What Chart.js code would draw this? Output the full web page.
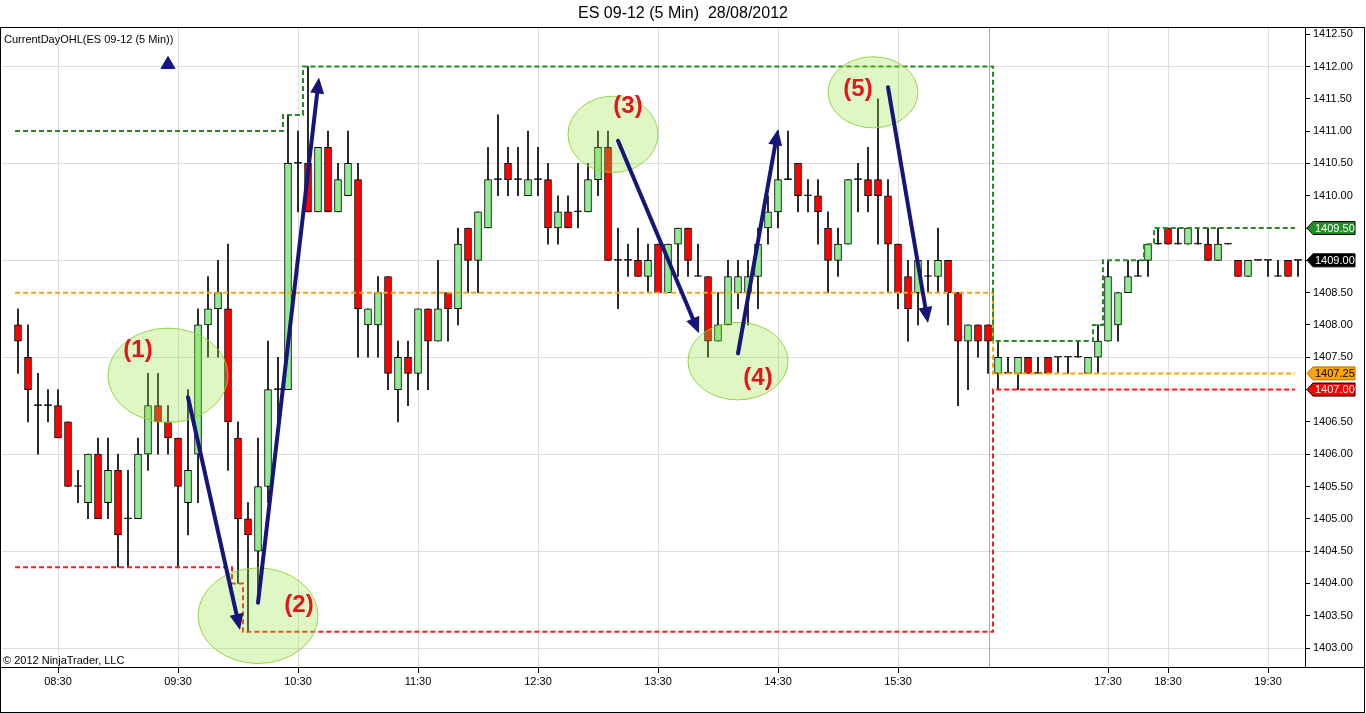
<!DOCTYPE html>
<html>
<head>
<meta charset="utf-8">
<title>ES 09-12 (5 Min) 28/08/2012</title>
<script src="https://cdn.jsdelivr.net/npm/chart.js@4.4.1/dist/chart.umd.min.js"></script>
<style>
  html, body { margin: 0; padding: 0; background: #fff; }
  #wrap { width: 1366px; height: 713px; }
</style>
</head>
<body>
<div id="wrap"><canvas id="esChart" width="1366" height="713"></canvas></div>
<script>
// 5 min bars, one value per bar (bar 1 = leftmost)
const barOpen = [
  1408.0, 1407.5, 1406.75, 1406.75, 1406.75, 1406.5, 1405.5, 1405.25, 1406.0, 1405.25,
  1405.75, 1405.0, 1405.0, 1406.0, 1406.75, 1406.5, 1406.25, 1405.25, 1406.0, 1408.0,
  1408.25, 1408.25, 1406.25, 1405.0, 1404.5, 1405.5, 1407.0, 1407.0, 1410.5, 1410.5,
  1409.75, 1410.75, 1409.75, 1410.0, 1410.25, 1408.0, 1408.0, 1408.75, 1407.0, 1407.5,
  1407.25, 1408.25, 1407.75, 1408.5, 1408.25, 1409.5, 1409.0, 1409.5, 1410.25, 1410.5,
  1410.25, 1410.0, 1410.25, 1410.25, 1409.5, 1409.75, 1409.75, 1409.75, 1410.25, 1410.75,
  1409.0, 1409.0, 1409.0, 1408.75, 1409.25, 1408.5, 1409.25, 1409.5, 1408.75, 1408.75,
  1407.75, 1408.0, 1408.5, 1408.5, 1408.75, 1409.5, 1409.75, 1410.25, 1410.5, 1410.0,
  1410.0, 1409.5, 1409.0, 1409.25, 1410.25, 1410.25, 1410.25, 1410.0, 1409.25, 1408.75,
  1408.5, 1408.75, 1408.75, 1409.0, 1408.5, 1407.75, 1408.0, 1408.0, 1407.25, 1407.25,
  1407.25, 1407.5, 1407.25, 1407.5, 1407.5, 1407.5, 1407.5, 1407.25, 1407.5, 1407.75,
  1408.0, 1408.5, 1408.75, 1409.0, 1409.25, 1409.5, 1409.25, 1409.25, 1409.25, 1409.25,
  1409.0, 1409.25, 1409.0, 1408.75, 1409.0, 1409.0, 1408.75, 1409.0, 1409.0
];
const barHigh = [
  1408.25, 1408.0, 1407.25, 1407.0, 1407.0, 1406.5, 1405.75, 1406.0, 1406.25, 1406.25,
  1406.0, 1405.75, 1406.25, 1407.25, 1407.25, 1406.75, 1406.25, 1407.0, 1408.25, 1408.75,
  1409.0, 1409.25, 1406.5, 1405.25, 1406.25, 1407.75, 1407.5, 1411.25, 1411.0, 1412.0,
  1410.75, 1411.0, 1410.5, 1411.0, 1410.5, 1408.25, 1408.75, 1408.75, 1407.75, 1407.75,
  1408.25, 1408.25, 1409.0, 1408.5, 1409.5, 1409.5, 1409.75, 1410.75, 1411.25, 1410.75,
  1410.75, 1411.0, 1410.75, 1410.5, 1410.0, 1410.0, 1410.5, 1410.5, 1411.0, 1411.0,
  1409.5, 1409.25, 1409.5, 1409.25, 1409.25, 1409.25, 1409.5, 1409.5, 1409.25, 1408.75,
  1408.5, 1409.0, 1409.0, 1409.0, 1409.5, 1410.0, 1411.0, 1411.0, 1410.5, 1410.25,
  1410.25, 1409.75, 1409.5, 1410.25, 1410.5, 1410.75, 1411.5, 1410.25, 1409.25, 1409.0,
  1409.0, 1409.0, 1409.5, 1409.0, 1408.5, 1408.0, 1408.0, 1408.0, 1407.75, 1407.5,
  1407.5, 1407.5, 1407.5, 1407.5, 1407.5, 1407.5, 1407.75, 1407.5, 1408.0, 1409.0,
  1408.5, 1409.0, 1409.0, 1409.25, 1409.5, 1409.5, 1409.5, 1409.5, 1409.5, 1409.5,
  1409.5, 1409.25, 1409.0, 1409.0, 1409.0, 1409.0, 1409.0, 1409.0, 1409.0
];
const barLow = [
  1407.25, 1406.5, 1406.0, 1406.5, 1406.25, 1405.5, 1405.25, 1405.0, 1405.0, 1405.0,
  1404.25, 1404.25, 1405.0, 1405.75, 1406.0, 1406.0, 1404.25, 1404.75, 1405.25, 1407.5,
  1407.5, 1405.75, 1404.0, 1403.25, 1403.75, 1405.25, 1406.5, 1407.0, 1409.75, 1409.75,
  1409.75, 1409.75, 1409.75, 1410.0, 1407.5, 1407.5, 1407.5, 1407.0, 1406.5, 1406.75,
  1407.0, 1407.0, 1407.75, 1407.75, 1408.0, 1408.5, 1408.5, 1409.5, 1410.0, 1410.0,
  1410.0, 1410.0, 1410.0, 1409.25, 1409.25, 1409.5, 1409.5, 1409.75, 1410.0, 1409.0,
  1408.25, 1408.75, 1408.75, 1408.5, 1408.5, 1408.5, 1408.75, 1408.75, 1408.75, 1407.5,
  1407.75, 1408.0, 1408.25, 1408.0, 1408.25, 1409.25, 1409.5, 1410.25, 1409.75, 1409.75,
  1409.25, 1408.5, 1408.75, 1409.25, 1409.75, 1409.75, 1409.25, 1408.5, 1408.25, 1407.75,
  1408.0, 1408.5, 1408.5, 1408.0, 1406.75, 1407.0, 1407.5, 1407.25, 1407.0, 1407.25,
  1407.0, 1407.25, 1407.25, 1407.25, 1407.25, 1407.25, 1407.5, 1407.25, 1407.25, 1407.75,
  1407.75, 1408.5, 1408.75, 1408.75, 1409.25, 1409.25, 1409.25, 1409.25, 1409.25, 1409.0,
  1409.0, 1409.25, 1408.75, 1408.75, 1409.0, 1408.75, 1408.75, 1408.75, 1408.75
];
const barClose = [
  1407.75, 1407.0, 1406.75, 1406.75, 1406.25, 1405.5, 1405.5, 1406.0, 1405.0, 1405.75,
  1404.75, 1405.0, 1406.0, 1406.75, 1406.5, 1406.25, 1405.5, 1405.75, 1408.0, 1408.25,
  1408.5, 1406.5, 1405.0, 1404.75, 1405.5, 1407.0, 1407.0, 1410.5, 1410.5, 1409.75,
  1410.75, 1409.75, 1410.25, 1410.5, 1408.25, 1408.25, 1408.5, 1407.25, 1407.5, 1407.25,
  1408.25, 1407.75, 1408.25, 1408.25, 1409.25, 1409.0, 1409.75, 1410.25, 1410.25, 1410.25,
  1410.25, 1410.25, 1410.25, 1409.5, 1409.75, 1409.5, 1409.75, 1410.25, 1410.75, 1409.0,
  1409.0, 1409.0, 1408.75, 1409.0, 1408.5, 1409.25, 1409.5, 1409.0, 1408.75, 1407.75,
  1408.0, 1408.75, 1408.75, 1408.75, 1409.25, 1409.75, 1410.25, 1410.25, 1410.0, 1410.0,
  1409.75, 1409.0, 1409.25, 1410.25, 1410.25, 1410.0, 1410.0, 1409.25, 1408.5, 1408.25,
  1409.0, 1408.75, 1409.0, 1408.5, 1407.75, 1408.0, 1407.75, 1407.75, 1407.5, 1407.25,
  1407.5, 1407.25, 1407.25, 1407.25, 1407.5, 1407.5, 1407.5, 1407.5, 1407.75, 1408.75,
  1408.5, 1408.75, 1408.75, 1409.25, 1409.25, 1409.25, 1409.25, 1409.5, 1409.25, 1409.0,
  1409.25, 1409.25, 1408.75, 1409.0, 1409.0, 1409.0, 1408.75, 1408.75, 1409.0
];

// time axis labels (bar number -> label)
const timeTickBars = [5, 17, 29, 41, 53, 65, 77, 89, 110, 116, 126];
const timeTickLabels = ['08:30', '09:30', '10:30', '11:30', '12:30', '13:30', '14:30', '15:30', '17:30', '18:30', '19:30'];
const sessionBreakBar = 98.1;

// price axis
const priceTicks = [1403.0, 1403.5, 1404.0, 1404.5, 1405.0, 1405.5, 1406.0, 1406.5, 1407.0, 1407.5,
  1408.0, 1408.5, 1409.0, 1409.5, 1410.0, 1410.5, 1411.0, 1411.5, 1412.0, 1412.5];
const gridPrices = [1403.0, 1404.5, 1406.0, 1407.5, 1409.0, 1410.5, 1412.0];

// CurrentDayOHL indicator: [bar where value starts, price]
const ohlHighSteps = [[0.7, 1411.0], [27.5, 1411.25], [29.5, 1412.0], [98.5, 1407.75], [108.5, 1408.0],
  [109.5, 1409.0], [113.6, 1409.25], [114.6, 1409.5], [128.7, 1409.5]];
const ohlOpenSteps = [[0.7, 1408.5], [98.5, 1407.25], [128.7, 1407.25]];
const ohlLowSteps = [[0.7, 1404.25], [22.4, 1404.0], [23.5, 1403.25], [98.5, 1407.0], [128.7, 1407.0]];

// price markers on the right axis
const badgePrices = [1409.5, barClose[barClose.length - 1], 1407.25, 1407.0];
const badgeFill = ['#238b23', '#000000', '#ffa500', '#ff0000'];
const badgeText = ['#ffffff', '#ffffff', '#000000', '#ffffff'];

// signal marker
const markerBars = [16];
const markerPrices = [1412.03];

// hand drawn annotations: circles, labels, arrows (bar, price)
const circleBars = [16, 25, 60.5, 73, 86.5];
const circlePrices = [1407.22, 1403.5, 1410.95, 1407.44, 1411.6];
const circleRadiusBars = [6, 6, 4.5, 5, 4.5];
const circleRadiusPrice = [0.73, 0.74, 0.59, 0.6, 0.55];
const noteTexts = ['(1)', '(2)', '(3)', '(4)', '(5)'];
const noteBars = [13.0, 29.1, 62.0, 75.0, 85.0];
const notePrices = [1407.61, 1403.66, 1411.38, 1407.18, 1411.64];
const arrowFrom = [[18.0, 1406.88], [25.0, 1403.7], [61.0, 1410.85], [73.0, 1407.56], [88.0, 1411.68]];
const arrowTo = [[23.2, 1403.28], [31.1, 1411.83], [69.1, 1407.87], [77.0, 1411.03], [92.0, 1408.03]];

Chart.defaults.font.family = 'Arial, "Liberation Sans", sans-serif';
Chart.defaults.font.size = 11;
Chart.defaults.color = '#000';

const bodies = barOpen.map((o, i) => ({ x: i + 1, y: [o, barClose[i]] }));
const wicks = barLow.map((l, i) => ({ x: i + 1, y: [l, barHigh[i]] }));
const toPoints = steps => steps.map(s => ({ x: s[0], y: s[1] }));

function bodyColor(ctx) {
  const i = ctx.dataIndex;
  if (barClose[i] > barOpen[i]) return '#90ee90';
  if (barClose[i] < barOpen[i]) return '#ff0000';
  return '#000';
}

const overlayPlugin = {
  id: 'overlays',
  beforeDatasetsDraw(chart) {
    const { ctx, chartArea, scales: { x } } = chart;
    const px = Math.round(x.getPixelForValue(sessionBreakBar)) + 0.5;
    ctx.save();
    ctx.strokeStyle = '#a8a8a8';
    ctx.lineWidth = 1;
    ctx.beginPath();
    ctx.moveTo(px, chartArea.top);
    ctx.lineTo(px, chartArea.bottom);
    ctx.stroke();
    ctx.restore();
  },
  afterDatasetsDraw(chart) {
    const { ctx, scales: { x, y } } = chart;
    ctx.save();

    // green circles
    circleBars.forEach((b, i) => {
      const cx = x.getPixelForValue(b);
      const cy = y.getPixelForValue(circlePrices[i]);
      const rx = Math.abs(x.getPixelForValue(b + circleRadiusBars[i]) - cx);
      const ry = Math.abs(y.getPixelForValue(circlePrices[i] + circleRadiusPrice[i]) - cy);
      ctx.beginPath();
      ctx.ellipse(cx, cy, rx, ry, 0, 0, Math.PI * 2);
      ctx.fillStyle = 'rgba(150, 228, 60, 0.3)';
      ctx.fill();
      ctx.strokeStyle = 'rgba(140, 210, 50, 0.9)';
      ctx.lineWidth = 1;
      ctx.stroke();
    });

    // arrows
    arrowFrom.forEach((from, i) => {
      const x1 = x.getPixelForValue(from[0]);
      const y1 = y.getPixelForValue(from[1]);
      const x2 = x.getPixelForValue(arrowTo[i][0]);
      const y2 = y.getPixelForValue(arrowTo[i][1]);
      const ang = Math.atan2(y2 - y1, x2 - x1);
      const head = 16;
      const bx = x2 - Math.cos(ang) * head;
      const by = y2 - Math.sin(ang) * head;
      ctx.strokeStyle = '#16167a';
      ctx.fillStyle = '#16167a';
      ctx.lineWidth = 4;
      ctx.lineCap = 'round';
      ctx.beginPath();
      ctx.moveTo(x1, y1);
      ctx.lineTo(bx, by);
      ctx.stroke();
      ctx.beginPath();
      ctx.moveTo(x2, y2);
      ctx.lineTo(bx + Math.sin(ang) * 7, by - Math.cos(ang) * 7);
      ctx.lineTo(bx - Math.sin(ang) * 7, by + Math.cos(ang) * 7);
      ctx.closePath();
      ctx.fill();
    });

    // (1) .. (5)
    ctx.font = 'bold 24px Arial, "Liberation Sans", sans-serif';
    ctx.fillStyle = '#e3161c';
    ctx.textAlign = 'center';
    ctx.textBaseline = 'middle';
    noteTexts.forEach((t, i) => {
      ctx.fillText(t, x.getPixelForValue(noteBars[i]), y.getPixelForValue(notePrices[i]));
    });
    ctx.restore();
  },
  afterDraw(chart) {
    const { ctx, chartArea, scales: { y } } = chart;
    const W = chart.width, H = chart.height;
    ctx.save();

    // outer frame, time axis line, price axis line
    ctx.strokeStyle = '#000';
    ctx.lineWidth = 1;
    ctx.strokeRect(0.5, Math.round(chartArea.top) + 0.5, W - 2, H - Math.round(chartArea.top) - 1);
    ctx.beginPath();
    ctx.moveTo(0, Math.round(chartArea.bottom) + 0.5);
    ctx.lineTo(W - 1, Math.round(chartArea.bottom) + 0.5);
    ctx.moveTo(Math.round(chartArea.right) + 0.5, chartArea.top);
    ctx.lineTo(Math.round(chartArea.right) + 0.5, chartArea.bottom);
    ctx.stroke();

    // indicator name and copyright
    ctx.font = '11px Arial, "Liberation Sans", sans-serif';
    ctx.fillStyle = '#000';
    ctx.textAlign = 'left';
    ctx.textBaseline = 'middle';
    ctx.fillText('CurrentDayOHL(ES 09-12 (5 Min))', 4, chartArea.top + 13);
    ctx.fillText('\u00a9 2012 NinjaTrader, LLC', 3, chartArea.bottom - 6);

    // price badges
    badgePrices.forEach((p, i) => {
      const py = y.getPixelForValue(p);
      const tip = chartArea.right + 2;
      const left = tip + 6;
      const right = W - 11;
      ctx.beginPath();
      ctx.moveTo(tip, py);
      ctx.lineTo(left, py - 6.5);
      ctx.lineTo(right, py - 6.5);
      ctx.lineTo(right, py + 6.5);
      ctx.lineTo(left, py + 6.5);
      ctx.closePath();
      ctx.fillStyle = badgeFill[i];
      ctx.fill();
      ctx.strokeStyle = i === 2 ? '#b07000' : '#000';
      ctx.stroke();
      ctx.fillStyle = badgeText[i];
      ctx.fillText(p.toFixed(2), left + 2, py + 0.5);
    });
    ctx.restore();
  }
};

new Chart(document.getElementById('esChart'), {
  type: 'bar',
  data: {
    datasets: [
      {
        label: 'Bodies',
        data: bodies,
        order: 2,
        grouped: false,
        barThickness: 7,
        minBarLength: 1,
        backgroundColor: bodyColor,
        borderColor: '#000',
        borderWidth: 1,
        borderSkipped: false
      },
      {
        label: 'Wicks',
        data: wicks,
        order: 3,
        grouped: false,
        barThickness: 1,
        backgroundColor: '#000',
        borderWidth: 0
      },
      {
        type: 'line',
        label: 'High',
        data: toPoints(ohlHighSteps),
        order: 1,
        stepped: true,
        borderColor: '#228b22',
        borderWidth: 2,
        borderDash: [5, 3],
        pointRadius: 0
      },
      {
        type: 'line',
        label: 'Open',
        data: toPoints(ohlOpenSteps),
        order: 1,
        stepped: true,
        borderColor: '#ffa500',
        borderWidth: 2,
        borderDash: [5, 3],
        pointRadius: 0
      },
      {
        type: 'line',
        label: 'Low',
        data: toPoints(ohlLowSteps),
        order: 1,
        stepped: true,
        borderColor: '#ff1a1a',
        borderWidth: 2,
        borderDash: [5, 3],
        pointRadius: 0
      },
      {
        type: 'line',
        label: 'Signal',
        data: markerBars.map((b, i) => ({ x: b, y: markerPrices[i] })),
        order: 0,
        showLine: false,
        pointStyle: 'triangle',
        pointRadius: 8,
        backgroundColor: '#14148a',
        borderColor: '#14148a'
      }
    ]
  },
  options: {
    responsive: false,
    animation: false,
    layout: { autoPadding: false, padding: { left: 2, right: 2, top: 0, bottom: 1 } },
    plugins: {
      legend: { display: false },
      tooltip: { enabled: false },
      title: {
        display: true,
        text: 'ES 09-12 (5 Min)  28/08/2012',
        color: '#000',
        font: { size: 16, weight: 'normal' },
        padding: { top: 4, bottom: 4 }
      }
    },
    scales: {
      x: {
        type: 'linear',
        min: -0.6,
        max: 129.7,
        offset: false,
        afterBuildTicks: scale => { scale.ticks = timeTickBars.map(v => ({ value: v })); },
        afterFit: scale => {
          scale.height = 45;
          scale.paddingLeft = 0;
          scale.paddingRight = 0;
        },
        ticks: {
          autoSkip: false,
          maxRotation: 0,
          padding: 2,
          color: '#000',
          font: { size: 11 },
          callback: v => timeTickLabels[timeTickBars.indexOf(v)]
        },
        grid: { color: '#dddddd', tickColor: '#000', tickLength: 6, offset: false },
        border: { color: '#000' }
      },
      y: {
        position: 'right',
        min: 1402.706,
        max: 1412.608,
        afterBuildTicks: scale => { scale.ticks = priceTicks.map(v => ({ value: v })); },
        afterFit: scale => {
          scale.width = 59;
          scale.paddingTop = 0;
          scale.paddingBottom = 0;
        },
        ticks: {
          autoSkip: false,
          padding: 3,
          color: '#000',
          font: { size: 11 },
          callback: v => v.toFixed(2)
        },
        grid: {
          color: ctx => (ctx.tick && gridPrices.includes(ctx.tick.value)) ? '#dddddd' : 'rgba(0,0,0,0)',
          tickColor: '#000',
          tickLength: 5
        },
        border: { color: '#000' }
      }
    }
  },
  plugins: [overlayPlugin]
});
</script>
</body>
</html>
